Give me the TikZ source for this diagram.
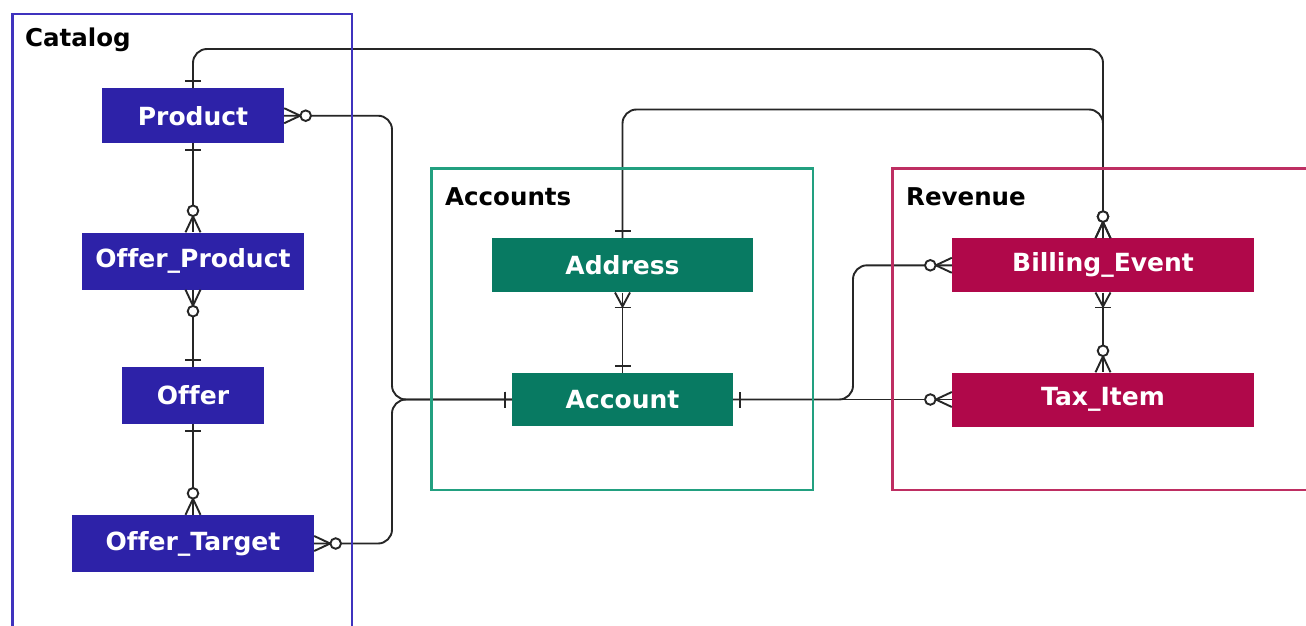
\documentclass[tikz,border=0pt]{standalone}
\usepackage{fontspec}
\setmainfont{DejaVu Sans}[Ligatures=NoCommon]
\usetikzlibrary{arrows.meta}

\pgfdeclarearrow{
  name=ErZeroMany,
  setup code={
    \pgfarrowssettipend{0pt}
    \pgfarrowssetlineend{0pt}
    \pgfarrowssetbackend{-28pt}
    \pgfarrowsupperhullpoint{0pt}{7pt}
    \pgfarrowsupperhullpoint{-28pt}{7pt}
  },
  drawing code={
    \pgfpathmoveto{\pgfqpoint{0pt}{7.5pt}}
    \pgfpathlineto{\pgfqpoint{-16pt}{0pt}}
    \pgfpathlineto{\pgfqpoint{0pt}{-7.5pt}}
    \pgfusepathqstroke
    \pgfpathcircle{\pgfqpoint{-21.5pt}{0pt}}{5.3pt}
    \pgfsetfillcolor{white}
    \pgfusepathqfillstroke
  }
}
\pgfdeclarearrow{
  name=ErOne,
  setup code={
    \pgfarrowssettipend{0pt}
    \pgfarrowssetlineend{0pt}
    \pgfarrowssetbackend{-10pt}
    \pgfarrowsupperhullpoint{0pt}{8pt}
    \pgfarrowsupperhullpoint{-10pt}{8pt}
  },
  drawing code={
    \pgfpathmoveto{\pgfqpoint{-7pt}{8pt}}
    \pgfpathlineto{\pgfqpoint{-7pt}{-8pt}}
    \pgfusepathqstroke
  }
}
\pgfdeclarearrow{
  name=ErOneMany,
  setup code={
    \pgfarrowssettipend{0pt}
    \pgfarrowssetlineend{0pt}
    \pgfarrowssetbackend{-18pt}
    \pgfarrowsupperhullpoint{0pt}{8pt}
    \pgfarrowsupperhullpoint{-18pt}{8pt}
  },
  drawing code={
    \pgfpathmoveto{\pgfqpoint{0pt}{7.5pt}}
    \pgfpathlineto{\pgfqpoint{-14pt}{0pt}}
    \pgfpathlineto{\pgfqpoint{0pt}{-7.5pt}}
    \pgfusepathqstroke
    \pgfpathmoveto{\pgfqpoint{-15pt}{8pt}}
    \pgfpathlineto{\pgfqpoint{-15pt}{-8pt}}
    \pgfusepathqstroke
  }
}

\definecolor{catF}{HTML}{2D22A8}
\definecolor{catB}{HTML}{3F33BE}
\definecolor{accF}{HTML}{087A62}
\definecolor{accB}{HTML}{22A080}
\definecolor{revF}{HTML}{B0084A}
\definecolor{revB}{HTML}{BE2E62}
\definecolor{edge}{HTML}{262626}

\begin{document}
\begin{tikzpicture}[x=1pt,y=-1pt,
  entity/.style={draw=none, inner sep=0pt, text=white,
    font=\fontsize{25}{28}\selectfont\bfseries},
  cluster/.style={line width=2.8pt},
  ctitle/.style={anchor=base west, inner sep=0pt, text=black,
    font=\fontsize{24.5}{28}\selectfont\bfseries},
  rel/.style={draw=edge, line width=1.9pt, rounded corners=14pt}]
\useasboundingbox (0,0) rectangle (1306,626);
\clip (0,0) rectangle (1306,626);
\fill[white] (0,0) rectangle (1306,626);

% entities
\node[entity, fill=catF, minimum width=182pt, minimum height=55pt] (Product) at (193,115.7) {Product};
\node[entity, fill=catF, minimum width=222pt, minimum height=57pt] (OfferProduct) at (193,261) {Offer\_Product};
\node[entity, fill=catF, minimum width=142pt, minimum height=57pt] (Offer) at (193,395.5) {Offer};
\node[entity, fill=catF, minimum width=242pt, minimum height=57pt] (OfferTarget) at (193,543.5) {Offer\_Target};
\node[entity, fill=accF, minimum width=261pt, minimum height=54pt] (Address) at (622.5,265.3) {Address};
\node[entity, fill=accF, minimum width=221pt, minimum height=53pt] (Account) at (622.5,399.5) {Account};
\node[entity, fill=revF, minimum width=302pt, minimum height=54pt] (Billing) at (1103,265.3) {Billing\_Event};
\node[entity, fill=revF, minimum width=302pt, minimum height=54pt] (Tax) at (1103,399.5) {Tax\_Item};

% routing helpers
\coordinate (t1) at (0,49);
\coordinate (t2) at (0,109.5);
\coordinate (jA) at (392,0);
\coordinate (jB) at (853,0);

% relationships
\draw[rel, {ErOne}-{ErZeroMany}] (Product.north) |- (t1 -| Billing.north) -- (Billing.north);
\draw[rel, {ErOne}-{ErZeroMany}] (Address.north) |- (t2 -| Billing.north) -- (Billing.north);
\draw[rel, {ErZeroMany}-{ErOne}] (Product.east) -| (jA |- Account.west) -- (Account.west);
\draw[rel, {ErZeroMany}-{ErOne}] (OfferTarget.east) -| (jA |- Account.west) -- (Account.west);
\draw[rel, {ErOne}-{ErZeroMany}] (Product.south) -- (OfferProduct.north);
\draw[rel, {ErZeroMany}-{ErOne}] (OfferProduct.south) -- (Offer.north);
\draw[rel, {ErOne}-{ErZeroMany}] (Offer.south) -- (OfferTarget.north);
\draw[rel, {ErOneMany}-{ErOne}] (Address.south) -- (Account.north);
\draw[rel, {ErOne}-{ErZeroMany}] (Account.east) -| (jB |- Billing.west) -- (Billing.west);
\draw[rel, {ErOne}-{ErZeroMany}] (Account.east) -- (Tax.west);
\draw[rel, {ErOneMany}-{ErZeroMany}] (Billing.south) -- (Tax.north);

% clusters (drawn over the connectors, as in the reference)
\draw[cluster, draw=catB] (12.5,14) rectangle (352,660);
\draw[cluster, draw=accB] (431.5,168.5) rectangle (813,490);
\draw[cluster, draw=revB] (892.5,168.5) rectangle (1330,490);
\node[ctitle] (tcat) at (25,47) {Catalog};
\node[ctitle] (tacc) at (445,205.5) {Accounts};
\node[ctitle] (trev) at (906,205.5) {Revenue};
\end{tikzpicture}
\end{document}
